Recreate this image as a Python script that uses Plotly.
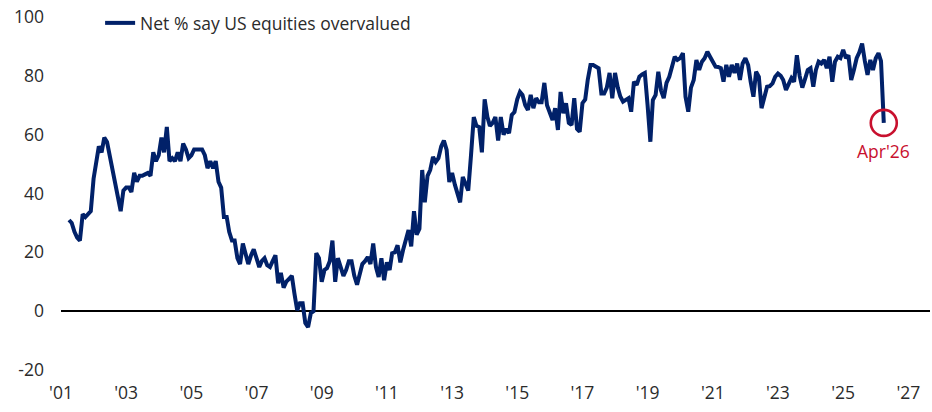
import pandas as pd
import plotly.graph_objects as go

# Net % of fund managers saying US equities are overvalued (monthly, Apr 2001 - Apr 2026)
v2001 = [31, 30, 27, 25, 24, 33, 32, 33, 34]  # Apr-Dec
v2002 = [45, 50, 56, 54, 59, 57.5, 53, 48, 44, 40, 34, 41]
v2003 = [42, 42, 40.5, 47, 44, 46, 46, 46.5, 47, 46, 54, 51]
v2004 = [53, 59, 54, 62.6, 51, 52, 51, 54, 51, 57, 55, 52]
v2005 = [53, 55, 55, 55, 55, 53, 48.6, 51, 48.6, 51, 44, 42]
v2006 = [32, 32, 27, 24, 24, 18, 16, 23, 20, 16, 19, 21]
v2007 = [18, 15, 17, 18, 15.6, 15, 17, 19, 9.5, 13, 8, 10]
v2008 = [11, 12, 6, 0.3, 2.7, 2.7, -4, -5.4, -0.7, 0, 19.7, 18]
v2009 = [10, 14, 14.6, 17, 24, 10, 18, 15, 12, 14, 17, 17]
v2010 = [12, 9, 12, 16, 17, 18.4, 16, 23, 15, 11.6, 18, 10.5]
v2011 = [16.6, 14, 19.7, 20, 22.4, 16.6, 20.7, 24, 27.6, 22, 34, 26]
v2012 = [28, 48, 37, 46, 48, 52.4, 50.7, 52, 56, 58, 54.8, 43.9]
v2013 = [47, 43, 40, 37, 45.6, 43, 41, 53, 66, 63, 62.6, 54]
v2014 = [72, 66, 63, 64, 66, 58, 66, 60, 62, 60.5, 66.7, 67.7]
v2015 = [72, 74.5, 73.5, 70, 68.4, 73.5, 69, 72.4, 71, 71, 77.6, 70]
v2016 = [67, 65, 69, 61.6, 74.5, 67.3, 70.7, 64, 63.3, 72.4, 62, 61]
v2017 = [70.7, 72, 78.6, 83.7, 83.7, 83, 82.6, 74, 74, 76, 81, 72.4]
v2018 = [81, 76, 73, 71.2, 71.8, 72.4, 67.8, 78, 76.9, 79.7, 80.5, 81]
v2019 = [70, 57.6, 71.8, 73.5, 81.4, 75, 72.4, 77.6, 79.7, 82.6, 86.5, 85.4]
v2020 = [86, 87.7, 72.9, 67.8, 76, 78.6, 85.4, 82, 84.8, 86, 88.2, 86.5]
v2021 = [84.8, 83.1, 83, 82.6, 78, 83.7, 79.7, 83.7, 81, 84.2, 78.6, 84.2]
v2022 = [86, 83.7, 78, 72.9, 81.4, 79.7, 69, 72.9, 76.3, 76.5, 77.4, 79.7]
v2023 = [80.8, 80, 78.6, 75.2, 77, 79.2, 78, 87, 80, 76, 79, 82]
v2024 = [82.6, 76.3, 82, 84.8, 84.2, 85.4, 82.6, 86.5, 78, 84.8, 86.5, 86]
v2025 = [88.8, 86, 87, 78.6, 82, 86, 88, 91, 85, 80.3, 85.4, 82]
v2026 = [86, 87.7, 85, 64]  # Jan-Apr

series_name = "Net % say US equities overvalued"
start_month = "2001-04-01"
tick_years = list(range(2001, 2028, 2))
tick_labels = ["'" + str(y)[2:] for y in tick_years]
y_ticks = [-20, 0, 20, 40, 60, 80, 100]
y_tick_labels = ["-20", "0", "20", "40", "60", "80", "100"]
last_label = "Apr'26"

values = (v2001 + v2002 + v2003 + v2004 + v2005 + v2006 + v2007 + v2008 + v2009
          + v2010 + v2011 + v2012 + v2013 + v2014 + v2015 + v2016 + v2017 + v2018
          + v2019 + v2020 + v2021 + v2022 + v2023 + v2024 + v2025 + v2026)
dates = pd.date_range(start_month, periods=len(values), freq="MS")

NAVY = "#012169"
RED = "#C8102E"
TXT = "#2b2b2b"
FONT = "Open Sans"

fig = go.Figure()
fig.add_trace(go.Scatter(
    x=dates, y=values, mode="lines", name=series_name,
    line=dict(color=NAVY, width=4),
))
fig.add_trace(go.Scatter(
    x=[dates[-1]], y=[values[-1]], mode="markers", showlegend=False,
    marker=dict(symbol="circle-open", size=26, color=RED, line=dict(width=2.6, color=RED)),
    hoverinfo="skip",
))
fig.add_annotation(
    x=dates[-1], y=values[-1], text=last_label, showarrow=False,
    yshift=-28, font=dict(family=FONT, size=17.5, color=RED),
)

fig.update_layout(
    width=932, height=412,
    margin=dict(l=61, r=2, t=17, b=42, autoexpand=False),
    paper_bgcolor="white", plot_bgcolor="white",
    font=dict(family=FONT, size=17.5, color=TXT),
    showlegend=True,
    legend=dict(
        orientation="h", x=0.045, xanchor="left", y=0.983, yanchor="middle",
        bgcolor="rgba(0,0,0,0)", font=dict(family=FONT, size=17.5, color=TXT),
    ),
)
fig.update_xaxes(
    type="date", range=["2001-01-01", "2027-09-01"],
    tickvals=[f"{y}-01-01" for y in tick_years], ticktext=tick_labels,
    showgrid=False, showline=False, zeroline=False, ticks="",
    ticklabelstandoff=10, automargin=False, ticklabeloverflow="allow",
)
fig.update_yaxes(
    range=[-20, 100], tickvals=y_ticks, ticktext=y_tick_labels,
    showgrid=False, showline=False, ticks="",
    zeroline=True, zerolinecolor="#000000", zerolinewidth=1.5,
    ticklabelstandoff=16, automargin=False, ticklabeloverflow="allow",
)

# remove the default 8px page margin so the figure fills the window exactly
fig.write_html(
    "out.html",
    config={"displayModeBar": False},
    post_script="document.body.style.margin='0';document.body.style.overflow='hidden';",
)
